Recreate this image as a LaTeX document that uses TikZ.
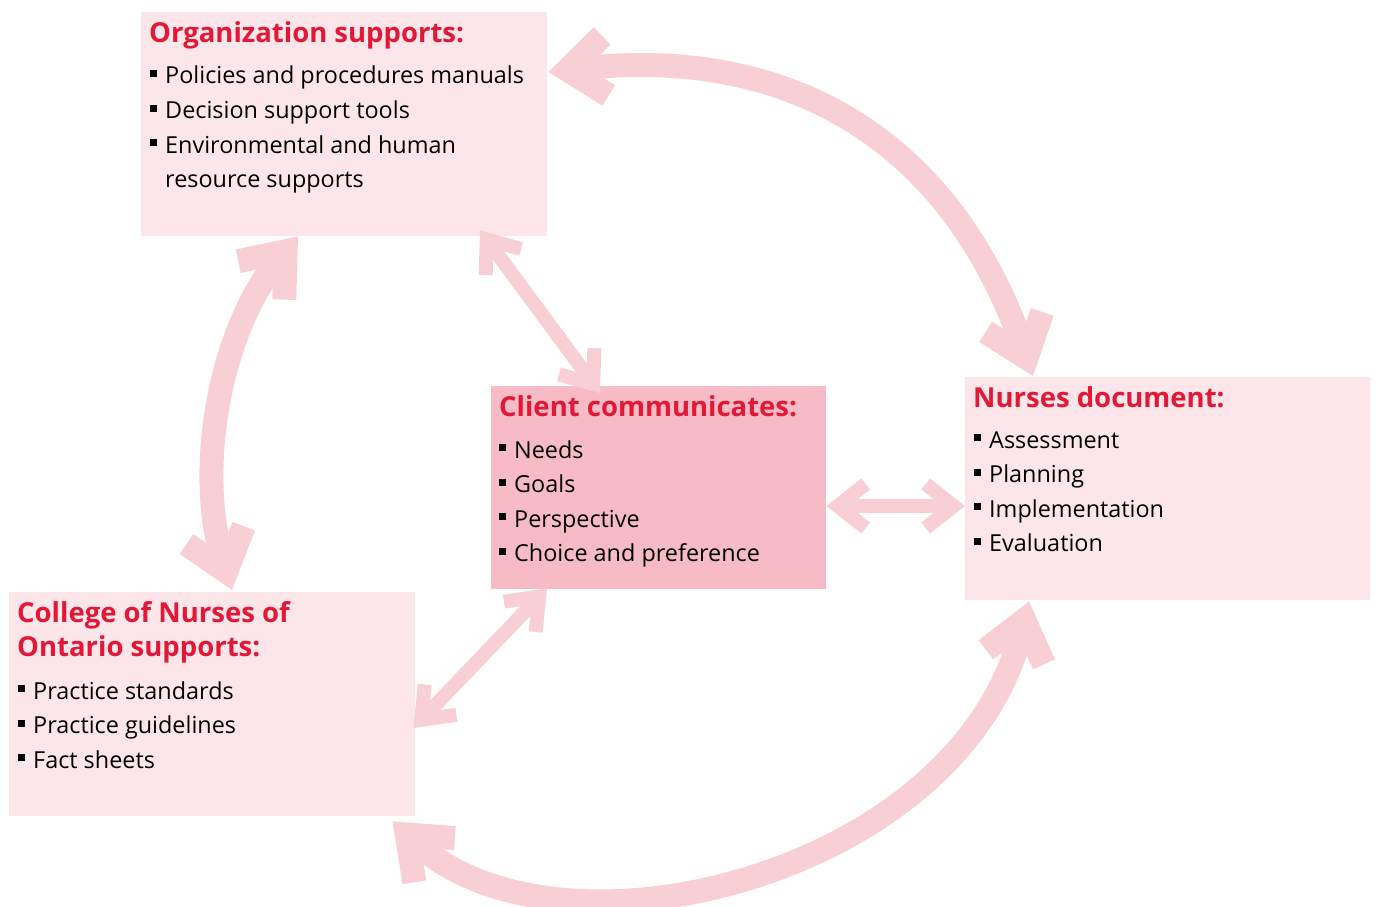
\documentclass[tikz,border=0pt]{standalone}
\usepackage{fontspec}
\setmainfont{Open Sans}
\usetikzlibrary{arrows.meta, positioning}

\definecolor{boxpink}{RGB}{253,230,234}
\definecolor{clientpink}{RGB}{247,187,198}
\definecolor{arrowpink}{RGB}{249,207,214}
\definecolor{titlered}{RGB}{227,24,55}

\newcommand{\sqbullet}{\rule[7pt]{7pt}{7pt}\hspace{8pt}}

\begin{document}
\begin{tikzpicture}[x=1pt, y=-1pt,
    box/.style={draw=none, fill=boxpink, inner sep=0pt, anchor=north west},
    heading/.style={text=titlered, inner sep=0pt, anchor=base west,
                    font=\bfseries\fontsize{27.5}{34.5}\selectfont},
    item/.style={inner sep=0pt, anchor=base west,
                 font=\fontsize{23.4}{34.5}\selectfont},
    bigarrow/.style={draw=arrowpink, line width=24pt,
                     {Straight Barb[sharp, length=38pt, width=60pt]}-{Straight Barb[sharp, length=38pt, width=60pt]}},
    thinarrow/.style={draw=arrowpink, line width=14pt,
                      {Straight Barb[sharp, length=28pt, width=44pt]}-{Straight Barb[sharp, length=28pt, width=44pt]}}]

    \useasboundingbox (0,0) rectangle (1376,907);

    % boxes
    \node[box,
          minimum width=406pt,
          minimum height=224pt] (org) at (141,12) {};
    \node[box,
          fill=clientpink,
          minimum width=335pt,
          minimum height=203pt] (client) at (491,386) {};
    \node[box,
          minimum width=405pt,
          minimum height=223pt] (nurses) at (965,377) {};
    \node[box,
          minimum width=406pt,
          minimum height=224pt] (college) at (9,592) {};

    % arrow ends
    \coordinate (org-r) at ([shift={(1,60)}]org.north east);
    \coordinate (org-b) at ([shift={(157,0)}]org.south west);
    \coordinate (org-c) at ([shift={(339,-6)}]org.south west);
    \coordinate (nurses-t) at ([shift={(68,-1)}]nurses.north west);
    \coordinate (nurses-b) at ([shift={(64,1)}]nurses.south west);
    \coordinate (nurses-l) at ([shift={(0,129)}]nurses.north west);
    \coordinate (college-t) at ([shift={(223,-2)}]college.north west);
    \coordinate (college-b) at ([shift={(-23,5)}]college.south east);
    \coordinate (college-r) at ([shift={(-2,136)}]college.north east);
    \coordinate (client-t) at ([shift={(109,7)}]client.north west);
    \coordinate (client-r) at ([shift={(0,120)}]client.north east);
    \coordinate (client-b) at ([shift={(56,-1)}]client.south west);

    % arrows
    \draw[bigarrow] (org-r) .. controls (790,45) and (950,140) .. (nurses-t);
    \draw[bigarrow] (college-t) .. controls (195,470) and (220,330) .. (org-b);
    \draw[bigarrow] (nurses-b) .. controls (960,875) and (560,975) .. (college-b);
    \draw[thinarrow] (org-c) -- (client-t);
    \draw[thinarrow] (client-r) -- (nurses-l);
    \draw[thinarrow] (client-b) -- (college-r);

    % Organization
    \node[heading] (org-title) at (149,43) {Organization supports:};
    \foreach \txt [count=\i] in {Policies and procedures manuals, Decision support tools, Environmental and human}
        \node[item] (org-\i) at (150,{84+34.5*(\i-1)}) {\sqbullet\txt};
    \node[item] (org-4) at (165,187.5) {resource supports};

    % Client
    \node[heading] (client-title) at (499,416) {Client communicates:};
    \foreach \txt [count=\i] in {Needs, Goals, Perspective, Choice and preference}
        \node[item] (client-\i) at (499,{458+34.5*(\i-1)}) {\sqbullet\txt};

    % Nurses
    \node[heading] (nurses-title) at (973,407) {Nurses document:};
    \foreach \txt [count=\i] in {Assessment, Planning, Implementation, Evaluation}
        \node[item] (nurses-\i) at (974,{448+34.5*(\i-1)}) {\sqbullet\txt};

    % College
    \node[heading] (college-title-1) at (17,622) {College of Nurses of};
    \node[heading] (college-title-2) at (17,656.5) {Ontario supports:};
    \foreach \txt [count=\i] in {Practice standards, Practice guidelines, Fact sheets}
        \node[item] (college-\i) at (18,{699+34.5*(\i-1)}) {\sqbullet\txt};

\end{tikzpicture}
\end{document}
